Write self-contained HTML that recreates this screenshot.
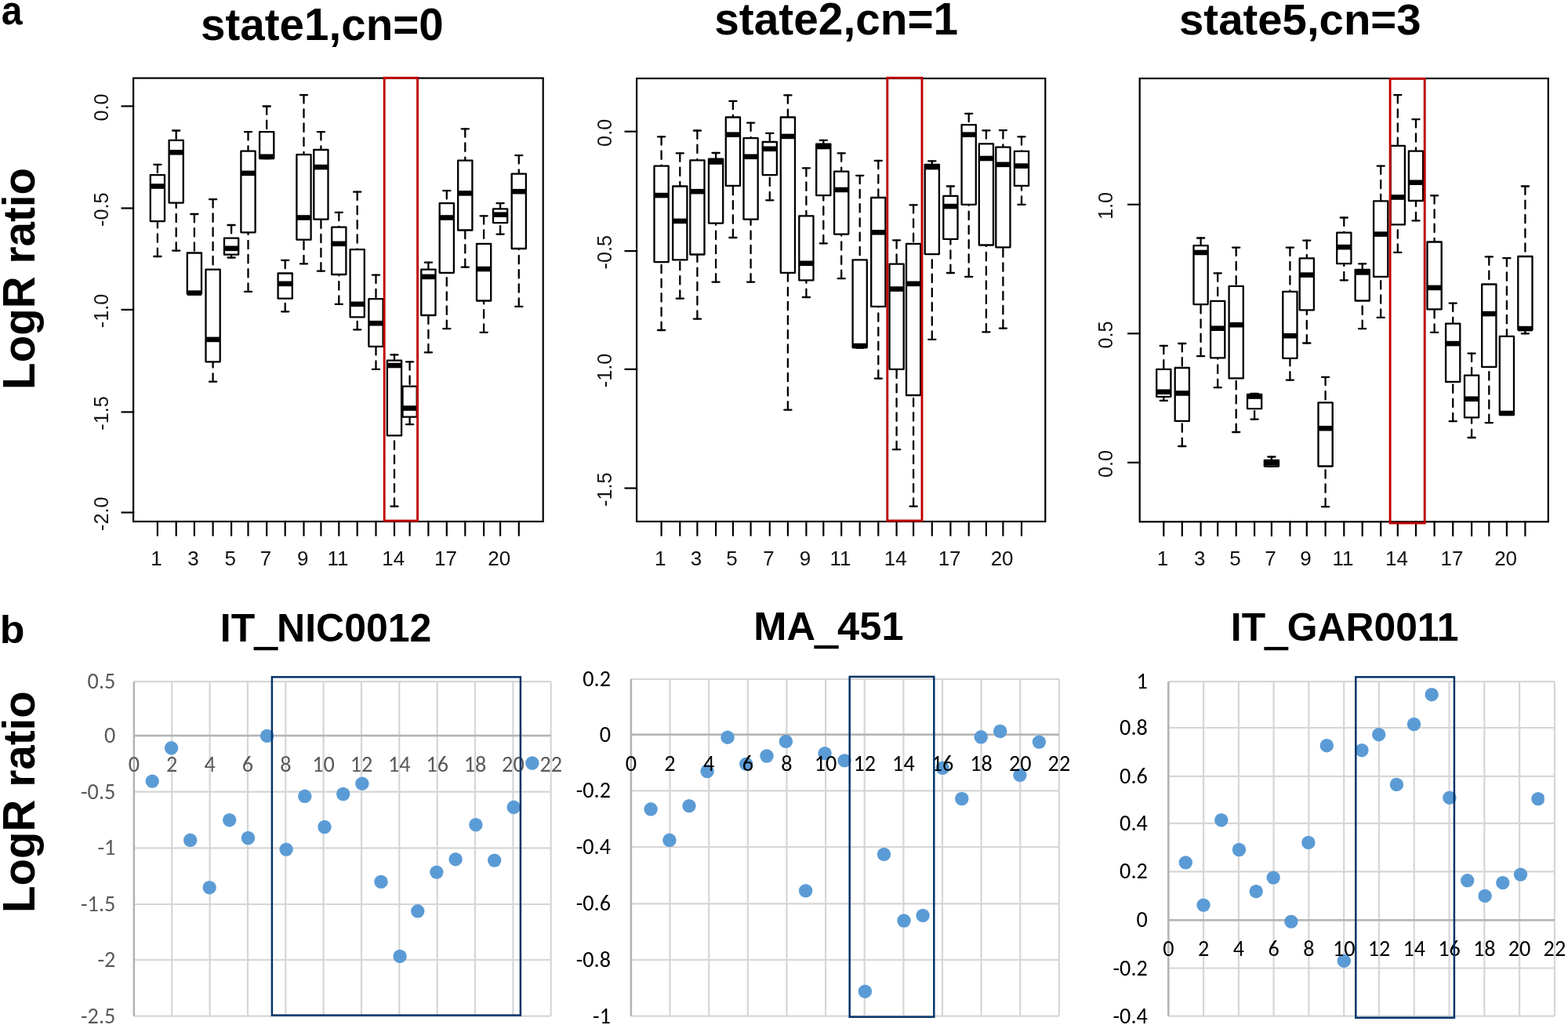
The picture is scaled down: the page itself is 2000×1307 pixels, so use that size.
<!DOCTYPE html>
<html><head><meta charset="utf-8"><title>LogR ratio figure</title><style>html,body{margin:0;padding:0;background:#fff;}svg{display:block;}</style></head><body><svg width="2000" height="1307" viewBox="0 0 2000 1307">
<rect width="2000" height="1307" fill="#fff"/>
<defs><clipPath id="clipb3"><rect x="1400" y="850" width="569.8" height="460"/></clipPath></defs>
<text transform="translate(1.75,31.00) scale(0.9463,1)" font-family='"Liberation Sans", Arial, sans-serif' font-weight="bold" font-size="51.0" fill="#000">a</text>
<text transform="translate(-0.17,820.00) scale(1.0274,1)" font-family='"Liberation Sans", Arial, sans-serif' font-weight="bold" font-size="50.5" fill="#000">b</text>
<text transform="translate(256.02,51.20) scale(1.0000,1)" font-family='"Liberation Sans", Arial, sans-serif' font-weight="bold" font-size="56.55" fill="#000">state1,cn=0</text>
<text transform="translate(911.21,43.60) scale(1.0000,1)" font-family='"Liberation Sans", Arial, sans-serif' font-weight="bold" font-size="56.8" fill="#000">state2,cn=1</text>
<text transform="translate(1504.03,43.50) scale(1.0000,1)" font-family='"Liberation Sans", Arial, sans-serif' font-weight="bold" font-size="56.35" fill="#000">state5,cn=3</text>
<text transform="translate(43.80,496.92) rotate(-90) scale(1.0000,1)" font-family='"Liberation Sans", Arial, sans-serif' font-weight="bold" font-size="56.6" fill="#000">LogR ratio</text>
<text transform="translate(43.80,1164.12) rotate(-90) scale(1.0000,1)" font-family='"Liberation Sans", Arial, sans-serif' font-weight="bold" font-size="56.6" fill="#000">LogR ratio</text>
<g stroke="#000" stroke-width="2.3" fill="none" stroke-linecap="round" stroke-linejoin="round"><line x1="200.9" y1="209.8" x2="200.9" y2="223.1" stroke-dasharray="10.4 7.8"/><line x1="200.9" y1="327.0" x2="200.9" y2="282.1" stroke-dasharray="10.4 7.8"/><line x1="196.3" y1="209.8" x2="205.5" y2="209.8"/><line x1="196.3" y1="327.0" x2="205.5" y2="327.0"/><rect x="191.8" y="223.1" width="18.2" height="59.0" fill="#fff"/><line x1="191.8" y1="237.5" x2="210.0" y2="237.5" stroke-width="6.6" stroke-linecap="butt"/><line x1="224.7" y1="166.5" x2="224.7" y2="178.8" stroke-dasharray="10.4 7.8"/><line x1="224.7" y1="319.6" x2="224.7" y2="258.6" stroke-dasharray="10.4 7.8"/><line x1="220.1" y1="166.5" x2="229.3" y2="166.5"/><line x1="220.1" y1="319.6" x2="229.3" y2="319.6"/><rect x="215.6" y="178.8" width="18.2" height="79.8" fill="#fff"/><line x1="215.6" y1="194.3" x2="233.8" y2="194.3" stroke-width="6.6" stroke-linecap="butt"/><line x1="247.9" y1="273.0" x2="247.9" y2="322.5" stroke-dasharray="10.4 7.8"/><line x1="243.3" y1="273.0" x2="252.5" y2="273.0"/><line x1="243.3" y1="374.6" x2="252.5" y2="374.6"/><rect x="238.8" y="322.5" width="18.2" height="52.1" fill="#fff"/><line x1="238.8" y1="373.6" x2="257.0" y2="373.6" stroke-width="6.6" stroke-linecap="butt"/><line x1="271.6" y1="254.2" x2="271.6" y2="343.6" stroke-dasharray="10.4 7.8"/><line x1="271.6" y1="486.7" x2="271.6" y2="461.3" stroke-dasharray="10.4 7.8"/><line x1="267.0" y1="254.2" x2="276.2" y2="254.2"/><line x1="267.0" y1="486.7" x2="276.2" y2="486.7"/><rect x="262.5" y="343.6" width="18.2" height="117.7" fill="#fff"/><line x1="262.5" y1="432.9" x2="280.7" y2="432.9" stroke-width="6.6" stroke-linecap="butt"/><line x1="295.1" y1="287.0" x2="295.1" y2="303.7" stroke-dasharray="10.4 7.8"/><line x1="295.1" y1="328.5" x2="295.1" y2="324.7" stroke-dasharray="10.4 7.8"/><line x1="290.5" y1="287.0" x2="299.7" y2="287.0"/><line x1="290.5" y1="328.5" x2="299.7" y2="328.5"/><rect x="286.0" y="303.7" width="18.2" height="21.0" fill="#fff"/><line x1="286.0" y1="316.8" x2="304.2" y2="316.8" stroke-width="6.6" stroke-linecap="butt"/><line x1="316.5" y1="168.1" x2="316.5" y2="192.7" stroke-dasharray="10.4 7.8"/><line x1="316.5" y1="371.8" x2="316.5" y2="296.3" stroke-dasharray="10.4 7.8"/><line x1="311.9" y1="168.1" x2="321.1" y2="168.1"/><line x1="311.9" y1="371.8" x2="321.1" y2="371.8"/><rect x="307.4" y="192.7" width="18.2" height="103.6" fill="#fff"/><line x1="307.4" y1="220.9" x2="325.6" y2="220.9" stroke-width="6.6" stroke-linecap="butt"/><line x1="340.2" y1="135.5" x2="340.2" y2="168.1" stroke-dasharray="10.4 7.8"/><line x1="335.6" y1="135.5" x2="344.8" y2="135.5"/><line x1="335.6" y1="202.0" x2="344.8" y2="202.0"/><rect x="331.1" y="168.1" width="18.2" height="33.9" fill="#fff"/><line x1="331.1" y1="199.8" x2="349.3" y2="199.8" stroke-width="6.6" stroke-linecap="butt"/><line x1="363.7" y1="331.8" x2="363.7" y2="348.5" stroke-dasharray="10.4 7.8"/><line x1="363.7" y1="397.3" x2="363.7" y2="380.7" stroke-dasharray="10.4 7.8"/><line x1="359.1" y1="331.8" x2="368.3" y2="331.8"/><line x1="359.1" y1="397.3" x2="368.3" y2="397.3"/><rect x="354.6" y="348.5" width="18.2" height="32.2" fill="#fff"/><line x1="354.6" y1="361.8" x2="372.8" y2="361.8" stroke-width="6.6" stroke-linecap="butt"/><line x1="387.5" y1="121.1" x2="387.5" y2="197.2" stroke-dasharray="10.4 7.8"/><line x1="387.5" y1="336.3" x2="387.5" y2="305.7" stroke-dasharray="10.4 7.8"/><line x1="382.9" y1="121.1" x2="392.1" y2="121.1"/><line x1="382.9" y1="336.3" x2="392.1" y2="336.3"/><rect x="378.4" y="197.2" width="18.2" height="108.5" fill="#fff"/><line x1="378.4" y1="277.5" x2="396.6" y2="277.5" stroke-width="6.6" stroke-linecap="butt"/><line x1="409.4" y1="168.1" x2="409.4" y2="191.0" stroke-dasharray="10.4 7.8"/><line x1="409.4" y1="345.6" x2="409.4" y2="279.7" stroke-dasharray="10.4 7.8"/><line x1="404.8" y1="168.1" x2="414.0" y2="168.1"/><line x1="404.8" y1="345.6" x2="414.0" y2="345.6"/><rect x="400.3" y="191.0" width="18.2" height="88.7" fill="#fff"/><line x1="400.3" y1="213.1" x2="418.5" y2="213.1" stroke-width="6.6" stroke-linecap="butt"/><line x1="432.3" y1="270.8" x2="432.3" y2="289.7" stroke-dasharray="10.4 7.8"/><line x1="432.3" y1="387.8" x2="432.3" y2="350.0" stroke-dasharray="10.4 7.8"/><line x1="427.7" y1="270.8" x2="436.9" y2="270.8"/><line x1="427.7" y1="387.8" x2="436.9" y2="387.8"/><rect x="423.2" y="289.7" width="18.2" height="60.3" fill="#fff"/><line x1="423.2" y1="310.8" x2="441.4" y2="310.8" stroke-width="6.6" stroke-linecap="butt"/><line x1="455.7" y1="244.7" x2="455.7" y2="318.1" stroke-dasharray="10.4 7.8"/><line x1="455.7" y1="420.3" x2="455.7" y2="404.4" stroke-dasharray="10.4 7.8"/><line x1="451.1" y1="244.7" x2="460.3" y2="244.7"/><line x1="451.1" y1="420.3" x2="460.3" y2="420.3"/><rect x="446.6" y="318.1" width="18.2" height="86.3" fill="#fff"/><line x1="446.6" y1="387.8" x2="464.8" y2="387.8" stroke-width="6.6" stroke-linecap="butt"/><line x1="479.5" y1="350.7" x2="479.5" y2="381.1" stroke-dasharray="10.4 7.8"/><line x1="479.5" y1="470.8" x2="479.5" y2="441.8" stroke-dasharray="10.4 7.8"/><line x1="474.9" y1="350.7" x2="484.1" y2="350.7"/><line x1="474.9" y1="470.8" x2="484.1" y2="470.8"/><rect x="470.4" y="381.1" width="18.2" height="60.7" fill="#fff"/><line x1="470.4" y1="412.2" x2="488.6" y2="412.2" stroke-width="6.6" stroke-linecap="butt"/><line x1="503.0" y1="452.3" x2="503.0" y2="459.6" stroke-dasharray="10.4 7.8"/><line x1="503.0" y1="645.7" x2="503.0" y2="555.4" stroke-dasharray="10.4 7.8"/><line x1="498.4" y1="452.3" x2="507.6" y2="452.3"/><line x1="498.4" y1="645.7" x2="507.6" y2="645.7"/><rect x="493.9" y="459.6" width="18.2" height="95.8" fill="#fff"/><line x1="493.9" y1="466.0" x2="512.1" y2="466.0" stroke-width="6.6" stroke-linecap="butt"/><line x1="522.6" y1="461.3" x2="522.6" y2="492.6" stroke-dasharray="10.4 7.8"/><line x1="522.6" y1="541.2" x2="522.6" y2="531.7" stroke-dasharray="10.4 7.8"/><line x1="518.0" y1="461.3" x2="527.2" y2="461.3"/><line x1="518.0" y1="541.2" x2="527.2" y2="541.2"/><rect x="513.5" y="492.6" width="18.2" height="39.1" fill="#fff"/><line x1="513.5" y1="520.5" x2="531.7" y2="520.5" stroke-width="6.6" stroke-linecap="butt"/><line x1="546.4" y1="334.7" x2="546.4" y2="343.6" stroke-dasharray="10.4 7.8"/><line x1="546.4" y1="449.4" x2="546.4" y2="402.0" stroke-dasharray="10.4 7.8"/><line x1="541.8" y1="334.7" x2="551.0" y2="334.7"/><line x1="541.8" y1="449.4" x2="551.0" y2="449.4"/><rect x="537.3" y="343.6" width="18.2" height="58.4" fill="#fff"/><line x1="537.3" y1="352.9" x2="555.5" y2="352.9" stroke-width="6.6" stroke-linecap="butt"/><line x1="569.8" y1="243.1" x2="569.8" y2="259.1" stroke-dasharray="10.4 7.8"/><line x1="569.8" y1="419.1" x2="569.8" y2="347.8" stroke-dasharray="10.4 7.8"/><line x1="565.2" y1="243.1" x2="574.4" y2="243.1"/><line x1="565.2" y1="419.1" x2="574.4" y2="419.1"/><rect x="560.7" y="259.1" width="18.2" height="88.7" fill="#fff"/><line x1="560.7" y1="277.5" x2="578.9" y2="277.5" stroke-width="6.6" stroke-linecap="butt"/><line x1="593.3" y1="164.3" x2="593.3" y2="204.7" stroke-dasharray="10.4 7.8"/><line x1="593.3" y1="340.7" x2="593.3" y2="293.5" stroke-dasharray="10.4 7.8"/><line x1="588.7" y1="164.3" x2="597.9" y2="164.3"/><line x1="588.7" y1="340.7" x2="597.9" y2="340.7"/><rect x="584.2" y="204.7" width="18.2" height="88.8" fill="#fff"/><line x1="584.2" y1="246.4" x2="602.4" y2="246.4" stroke-width="6.6" stroke-linecap="butt"/><line x1="617.1" y1="275.3" x2="617.1" y2="310.8" stroke-dasharray="10.4 7.8"/><line x1="617.1" y1="423.8" x2="617.1" y2="383.5" stroke-dasharray="10.4 7.8"/><line x1="612.5" y1="275.3" x2="621.7" y2="275.3"/><line x1="612.5" y1="423.8" x2="621.7" y2="423.8"/><rect x="608.0" y="310.8" width="18.2" height="72.7" fill="#fff"/><line x1="608.0" y1="343.0" x2="626.2" y2="343.0" stroke-width="6.6" stroke-linecap="butt"/><line x1="638.1" y1="259.1" x2="638.1" y2="266.4" stroke-dasharray="10.4 7.8"/><line x1="638.1" y1="298.6" x2="638.1" y2="284.1" stroke-dasharray="10.4 7.8"/><line x1="633.5" y1="259.1" x2="642.7" y2="259.1"/><line x1="633.5" y1="298.6" x2="642.7" y2="298.6"/><rect x="629.0" y="266.4" width="18.2" height="17.7" fill="#fff"/><line x1="629.0" y1="273.7" x2="647.2" y2="273.7" stroke-width="6.6" stroke-linecap="butt"/><line x1="661.8" y1="198.1" x2="661.8" y2="221.6" stroke-dasharray="10.4 7.8"/><line x1="661.8" y1="390.9" x2="661.8" y2="317.0" stroke-dasharray="10.4 7.8"/><line x1="657.2" y1="198.1" x2="666.4" y2="198.1"/><line x1="657.2" y1="390.9" x2="666.4" y2="390.9"/><rect x="652.7" y="221.6" width="18.2" height="95.4" fill="#fff"/><line x1="652.7" y1="244.2" x2="670.9" y2="244.2" stroke-width="6.6" stroke-linecap="butt"/></g>
<g stroke="#000" stroke-width="2.2" fill="none" stroke-linecap="square"><rect x="170.1" y="99.6" width="522.6" height="565.4"/><line x1="200.9" y1="665.0" x2="200.9" y2="682.5"/><line x1="224.7" y1="665.0" x2="224.7" y2="682.5"/><line x1="247.9" y1="665.0" x2="247.9" y2="682.5"/><line x1="271.6" y1="665.0" x2="271.6" y2="682.5"/><line x1="295.1" y1="665.0" x2="295.1" y2="682.5"/><line x1="316.5" y1="665.0" x2="316.5" y2="682.5"/><line x1="340.2" y1="665.0" x2="340.2" y2="682.5"/><line x1="363.7" y1="665.0" x2="363.7" y2="682.5"/><line x1="387.5" y1="665.0" x2="387.5" y2="682.5"/><line x1="409.4" y1="665.0" x2="409.4" y2="682.5"/><line x1="432.3" y1="665.0" x2="432.3" y2="682.5"/><line x1="455.7" y1="665.0" x2="455.7" y2="682.5"/><line x1="479.5" y1="665.0" x2="479.5" y2="682.5"/><line x1="503.0" y1="665.0" x2="503.0" y2="682.5"/><line x1="522.6" y1="665.0" x2="522.6" y2="682.5"/><line x1="546.4" y1="665.0" x2="546.4" y2="682.5"/><line x1="569.8" y1="665.0" x2="569.8" y2="682.5"/><line x1="593.3" y1="665.0" x2="593.3" y2="682.5"/><line x1="617.1" y1="665.0" x2="617.1" y2="682.5"/><line x1="638.1" y1="665.0" x2="638.1" y2="682.5"/><line x1="661.8" y1="665.0" x2="661.8" y2="682.5"/><line x1="155.6" y1="135.4" x2="170.1" y2="135.4"/><line x1="155.6" y1="265.5" x2="170.1" y2="265.5"/><line x1="155.6" y1="394.9" x2="170.1" y2="394.9"/><line x1="155.6" y1="525.4" x2="170.1" y2="525.4"/><line x1="155.6" y1="653.5" x2="170.1" y2="653.5"/></g>
<rect x="490.2" y="99.3" width="42.4" height="564.8" fill="none" stroke="#C00000" stroke-width="2.9"/>
<g font-family='"Liberation Sans", Arial, sans-serif' font-size="26" fill="#111"><text x="199.6" y="720.9" text-anchor="middle">1</text><text x="246.6" y="720.9" text-anchor="middle">3</text><text x="293.8" y="720.9" text-anchor="middle">5</text><text x="338.9" y="720.9" text-anchor="middle">7</text><text x="386.2" y="720.9" text-anchor="middle">9</text><text x="431.0" y="720.9" text-anchor="middle">11</text><text x="501.7" y="720.9" text-anchor="middle">14</text><text x="568.5" y="720.9" text-anchor="middle">17</text><text x="636.8" y="720.9" text-anchor="middle">20</text><text transform="translate(137.7,137.0) rotate(-90)" text-anchor="middle" font-size="25.3">0.0</text><text transform="translate(137.7,267.1) rotate(-90)" text-anchor="middle" font-size="25.3">-0.5</text><text transform="translate(137.7,396.5) rotate(-90)" text-anchor="middle" font-size="25.3">-1.0</text><text transform="translate(137.7,527.0) rotate(-90)" text-anchor="middle" font-size="25.3">-1.5</text><text transform="translate(137.7,655.1) rotate(-90)" text-anchor="middle" font-size="25.3">-2.0</text></g>
<g stroke="#000" stroke-width="2.3" fill="none" stroke-linecap="round" stroke-linejoin="round"><line x1="843.6" y1="174.3" x2="843.6" y2="211.6" stroke-dasharray="10.4 7.8"/><line x1="843.6" y1="421.0" x2="843.6" y2="334.1" stroke-dasharray="10.4 7.8"/><line x1="839.0" y1="174.3" x2="848.2" y2="174.3"/><line x1="839.0" y1="421.0" x2="848.2" y2="421.0"/><rect x="834.5" y="211.6" width="18.2" height="122.5" fill="#fff"/><line x1="834.5" y1="249.1" x2="852.7" y2="249.1" stroke-width="6.6" stroke-linecap="butt"/><line x1="867.3" y1="195.4" x2="867.3" y2="237.5" stroke-dasharray="10.4 7.8"/><line x1="867.3" y1="380.7" x2="867.3" y2="331.4" stroke-dasharray="10.4 7.8"/><line x1="862.7" y1="195.4" x2="871.9" y2="195.4"/><line x1="862.7" y1="380.7" x2="871.9" y2="380.7"/><rect x="858.2" y="237.5" width="18.2" height="93.9" fill="#fff"/><line x1="858.2" y1="281.9" x2="876.4" y2="281.9" stroke-width="6.6" stroke-linecap="butt"/><line x1="889.4" y1="166.5" x2="889.4" y2="204.3" stroke-dasharray="10.4 7.8"/><line x1="889.4" y1="406.7" x2="889.4" y2="324.5" stroke-dasharray="10.4 7.8"/><line x1="884.8" y1="166.5" x2="894.0" y2="166.5"/><line x1="884.8" y1="406.7" x2="894.0" y2="406.7"/><rect x="880.3" y="204.3" width="18.2" height="120.2" fill="#fff"/><line x1="880.3" y1="244.2" x2="898.5" y2="244.2" stroke-width="6.6" stroke-linecap="butt"/><line x1="913.1" y1="195.0" x2="913.1" y2="202.7" stroke-dasharray="10.4 7.8"/><line x1="913.1" y1="359.6" x2="913.1" y2="284.6" stroke-dasharray="10.4 7.8"/><line x1="908.5" y1="195.0" x2="917.7" y2="195.0"/><line x1="908.5" y1="359.6" x2="917.7" y2="359.6"/><rect x="904.0" y="202.7" width="18.2" height="81.9" fill="#fff"/><line x1="904.0" y1="206.5" x2="922.2" y2="206.5" stroke-width="6.6" stroke-linecap="butt"/><line x1="934.9" y1="128.8" x2="934.9" y2="149.5" stroke-dasharray="10.4 7.8"/><line x1="934.9" y1="303.0" x2="934.9" y2="236.9" stroke-dasharray="10.4 7.8"/><line x1="930.3" y1="128.8" x2="939.5" y2="128.8"/><line x1="930.3" y1="303.0" x2="939.5" y2="303.0"/><rect x="925.8" y="149.5" width="18.2" height="87.4" fill="#fff"/><line x1="925.8" y1="171.7" x2="944.0" y2="171.7" stroke-width="6.6" stroke-linecap="butt"/><line x1="957.6" y1="156.6" x2="957.6" y2="176.1" stroke-dasharray="10.4 7.8"/><line x1="957.6" y1="359.6" x2="957.6" y2="279.7" stroke-dasharray="10.4 7.8"/><line x1="953.0" y1="156.6" x2="962.2" y2="156.6"/><line x1="953.0" y1="359.6" x2="962.2" y2="359.6"/><rect x="948.5" y="176.1" width="18.2" height="103.6" fill="#fff"/><line x1="948.5" y1="199.8" x2="966.7" y2="199.8" stroke-width="6.6" stroke-linecap="butt"/><line x1="981.8" y1="169.9" x2="981.8" y2="181.0" stroke-dasharray="10.4 7.8"/><line x1="981.8" y1="255.3" x2="981.8" y2="223.1" stroke-dasharray="10.4 7.8"/><line x1="977.2" y1="169.9" x2="986.4" y2="169.9"/><line x1="977.2" y1="255.3" x2="986.4" y2="255.3"/><rect x="972.7" y="181.0" width="18.2" height="42.1" fill="#fff"/><line x1="972.7" y1="189.8" x2="990.9" y2="189.8" stroke-width="6.6" stroke-linecap="butt"/><line x1="1004.9" y1="121.4" x2="1004.9" y2="149.5" stroke-dasharray="10.4 7.8"/><line x1="1004.9" y1="522.6" x2="1004.9" y2="347.8" stroke-dasharray="10.4 7.8"/><line x1="1000.3" y1="121.4" x2="1009.5" y2="121.4"/><line x1="1000.3" y1="522.6" x2="1009.5" y2="522.6"/><rect x="995.8" y="149.5" width="18.2" height="198.3" fill="#fff"/><line x1="995.8" y1="173.9" x2="1014.0" y2="173.9" stroke-width="6.6" stroke-linecap="butt"/><line x1="1028.4" y1="214.3" x2="1028.4" y2="275.3" stroke-dasharray="10.4 7.8"/><line x1="1028.4" y1="379.0" x2="1028.4" y2="357.4" stroke-dasharray="10.4 7.8"/><line x1="1023.8" y1="214.3" x2="1033.0" y2="214.3"/><line x1="1023.8" y1="379.0" x2="1033.0" y2="379.0"/><rect x="1019.3" y="275.3" width="18.2" height="82.1" fill="#fff"/><line x1="1019.3" y1="335.8" x2="1037.5" y2="335.8" stroke-width="6.6" stroke-linecap="butt"/><line x1="1050.3" y1="178.8" x2="1050.3" y2="183.6" stroke-dasharray="10.4 7.8"/><line x1="1050.3" y1="310.3" x2="1050.3" y2="249.1" stroke-dasharray="10.4 7.8"/><line x1="1045.7" y1="178.8" x2="1054.9" y2="178.8"/><line x1="1045.7" y1="310.3" x2="1054.9" y2="310.3"/><rect x="1041.2" y="183.6" width="18.2" height="65.5" fill="#fff"/><line x1="1041.2" y1="187.0" x2="1059.4" y2="187.0" stroke-width="6.6" stroke-linecap="butt"/><line x1="1073.2" y1="195.4" x2="1073.2" y2="218.7" stroke-dasharray="10.4 7.8"/><line x1="1073.2" y1="355.1" x2="1073.2" y2="298.6" stroke-dasharray="10.4 7.8"/><line x1="1068.6" y1="195.4" x2="1077.8" y2="195.4"/><line x1="1068.6" y1="355.1" x2="1077.8" y2="355.1"/><rect x="1064.1" y="218.7" width="18.2" height="79.9" fill="#fff"/><line x1="1064.1" y1="242.0" x2="1082.3" y2="242.0" stroke-width="6.6" stroke-linecap="butt"/><line x1="1096.7" y1="223.8" x2="1096.7" y2="331.4" stroke-dasharray="10.4 7.8"/><line x1="1092.1" y1="223.8" x2="1101.3" y2="223.8"/><line x1="1092.1" y1="443.5" x2="1101.3" y2="443.5"/><rect x="1087.6" y="331.4" width="18.2" height="111.6" fill="#fff"/><line x1="1087.6" y1="441.0" x2="1105.8" y2="441.0" stroke-width="6.6" stroke-linecap="butt"/><line x1="1120.3" y1="204.9" x2="1120.3" y2="252.0" stroke-dasharray="10.4 7.8"/><line x1="1120.3" y1="482.6" x2="1120.3" y2="390.9" stroke-dasharray="10.4 7.8"/><line x1="1115.7" y1="204.9" x2="1124.9" y2="204.9"/><line x1="1115.7" y1="482.6" x2="1124.9" y2="482.6"/><rect x="1111.2" y="252.0" width="18.2" height="138.9" fill="#fff"/><line x1="1111.2" y1="296.3" x2="1129.4" y2="296.3" stroke-width="6.6" stroke-linecap="butt"/><line x1="1143.6" y1="306.3" x2="1143.6" y2="336.7" stroke-dasharray="10.4 7.8"/><line x1="1143.6" y1="573.2" x2="1143.6" y2="470.8" stroke-dasharray="10.4 7.8"/><line x1="1139.0" y1="306.3" x2="1148.2" y2="306.3"/><line x1="1139.0" y1="573.2" x2="1148.2" y2="573.2"/><rect x="1134.5" y="336.7" width="18.2" height="134.1" fill="#fff"/><line x1="1134.5" y1="368.5" x2="1152.7" y2="368.5" stroke-width="6.6" stroke-linecap="butt"/><line x1="1165.1" y1="261.3" x2="1165.1" y2="310.8" stroke-dasharray="10.4 7.8"/><line x1="1165.1" y1="645.7" x2="1165.1" y2="504.0" stroke-dasharray="10.4 7.8"/><line x1="1160.5" y1="261.3" x2="1169.7" y2="261.3"/><line x1="1160.5" y1="645.7" x2="1169.7" y2="645.7"/><rect x="1156.0" y="310.8" width="18.2" height="193.2" fill="#fff"/><line x1="1156.0" y1="361.8" x2="1174.2" y2="361.8" stroke-width="6.6" stroke-linecap="butt"/><line x1="1188.8" y1="205.4" x2="1188.8" y2="209.8" stroke-dasharray="10.4 7.8"/><line x1="1188.8" y1="432.8" x2="1188.8" y2="324.1" stroke-dasharray="10.4 7.8"/><line x1="1184.2" y1="205.4" x2="1193.4" y2="205.4"/><line x1="1184.2" y1="432.8" x2="1193.4" y2="432.8"/><rect x="1179.7" y="209.8" width="18.2" height="114.3" fill="#fff"/><line x1="1179.7" y1="213.1" x2="1197.9" y2="213.1" stroke-width="6.6" stroke-linecap="butt"/><line x1="1212.4" y1="237.5" x2="1212.4" y2="249.8" stroke-dasharray="10.4 7.8"/><line x1="1212.4" y1="348.0" x2="1212.4" y2="304.8" stroke-dasharray="10.4 7.8"/><line x1="1207.8" y1="237.5" x2="1217.0" y2="237.5"/><line x1="1207.8" y1="348.0" x2="1217.0" y2="348.0"/><rect x="1203.3" y="249.8" width="18.2" height="55.0" fill="#fff"/><line x1="1203.3" y1="263.1" x2="1221.5" y2="263.1" stroke-width="6.6" stroke-linecap="butt"/><line x1="1235.7" y1="144.8" x2="1235.7" y2="159.2" stroke-dasharray="10.4 7.8"/><line x1="1235.7" y1="352.9" x2="1235.7" y2="260.8" stroke-dasharray="10.4 7.8"/><line x1="1231.1" y1="144.8" x2="1240.3" y2="144.8"/><line x1="1231.1" y1="352.9" x2="1240.3" y2="352.9"/><rect x="1226.6" y="159.2" width="18.2" height="101.6" fill="#fff"/><line x1="1226.6" y1="171.7" x2="1244.8" y2="171.7" stroke-width="6.6" stroke-linecap="butt"/><line x1="1257.9" y1="166.3" x2="1257.9" y2="183.4" stroke-dasharray="10.4 7.8"/><line x1="1257.9" y1="423.3" x2="1257.9" y2="312.5" stroke-dasharray="10.4 7.8"/><line x1="1253.3" y1="166.3" x2="1262.5" y2="166.3"/><line x1="1253.3" y1="423.3" x2="1262.5" y2="423.3"/><rect x="1248.8" y="183.4" width="18.2" height="129.1" fill="#fff"/><line x1="1248.8" y1="202.0" x2="1267.0" y2="202.0" stroke-width="6.6" stroke-linecap="butt"/><line x1="1279.4" y1="166.1" x2="1279.4" y2="187.6" stroke-dasharray="10.4 7.8"/><line x1="1279.4" y1="418.6" x2="1279.4" y2="315.3" stroke-dasharray="10.4 7.8"/><line x1="1274.8" y1="166.1" x2="1284.0" y2="166.1"/><line x1="1274.8" y1="418.6" x2="1284.0" y2="418.6"/><rect x="1270.3" y="187.6" width="18.2" height="127.7" fill="#fff"/><line x1="1270.3" y1="209.8" x2="1288.5" y2="209.8" stroke-width="6.6" stroke-linecap="butt"/><line x1="1303.0" y1="174.3" x2="1303.0" y2="192.8" stroke-dasharray="10.4 7.8"/><line x1="1303.0" y1="260.9" x2="1303.0" y2="236.9" stroke-dasharray="10.4 7.8"/><line x1="1298.4" y1="174.3" x2="1307.6" y2="174.3"/><line x1="1298.4" y1="260.9" x2="1307.6" y2="260.9"/><rect x="1293.9" y="192.8" width="18.2" height="44.1" fill="#fff"/><line x1="1293.9" y1="211.6" x2="1312.1" y2="211.6" stroke-width="6.6" stroke-linecap="butt"/></g>
<g stroke="#000" stroke-width="2.2" fill="none" stroke-linecap="square"><rect x="812.1" y="100.0" width="521.2" height="565.0"/><line x1="843.6" y1="665.0" x2="843.6" y2="682.5"/><line x1="867.3" y1="665.0" x2="867.3" y2="682.5"/><line x1="889.4" y1="665.0" x2="889.4" y2="682.5"/><line x1="913.1" y1="665.0" x2="913.1" y2="682.5"/><line x1="934.9" y1="665.0" x2="934.9" y2="682.5"/><line x1="957.6" y1="665.0" x2="957.6" y2="682.5"/><line x1="981.8" y1="665.0" x2="981.8" y2="682.5"/><line x1="1004.9" y1="665.0" x2="1004.9" y2="682.5"/><line x1="1028.4" y1="665.0" x2="1028.4" y2="682.5"/><line x1="1050.3" y1="665.0" x2="1050.3" y2="682.5"/><line x1="1073.2" y1="665.0" x2="1073.2" y2="682.5"/><line x1="1096.7" y1="665.0" x2="1096.7" y2="682.5"/><line x1="1120.3" y1="665.0" x2="1120.3" y2="682.5"/><line x1="1143.6" y1="665.0" x2="1143.6" y2="682.5"/><line x1="1165.1" y1="665.0" x2="1165.1" y2="682.5"/><line x1="1188.8" y1="665.0" x2="1188.8" y2="682.5"/><line x1="1212.4" y1="665.0" x2="1212.4" y2="682.5"/><line x1="1235.7" y1="665.0" x2="1235.7" y2="682.5"/><line x1="1257.9" y1="665.0" x2="1257.9" y2="682.5"/><line x1="1279.4" y1="665.0" x2="1279.4" y2="682.5"/><line x1="1303.0" y1="665.0" x2="1303.0" y2="682.5"/><line x1="797.6" y1="167.7" x2="812.1" y2="167.7"/><line x1="797.6" y1="320.1" x2="812.1" y2="320.1"/><line x1="797.6" y1="470.8" x2="812.1" y2="470.8"/><line x1="797.6" y1="622.5" x2="812.1" y2="622.5"/></g>
<rect x="1131.8" y="99.3" width="44.2" height="564.7" fill="none" stroke="#C00000" stroke-width="2.9"/>
<g font-family='"Liberation Sans", Arial, sans-serif' font-size="26" fill="#111"><text x="842.3" y="720.9" text-anchor="middle">1</text><text x="888.1" y="720.9" text-anchor="middle">3</text><text x="933.6" y="720.9" text-anchor="middle">5</text><text x="980.5" y="720.9" text-anchor="middle">7</text><text x="1027.1" y="720.9" text-anchor="middle">9</text><text x="1071.9" y="720.9" text-anchor="middle">11</text><text x="1142.3" y="720.9" text-anchor="middle">14</text><text x="1211.1" y="720.9" text-anchor="middle">17</text><text x="1278.1" y="720.9" text-anchor="middle">20</text><text transform="translate(779.7,169.3) rotate(-90)" text-anchor="middle" font-size="25.3">0.0</text><text transform="translate(779.7,321.7) rotate(-90)" text-anchor="middle" font-size="25.3">-0.5</text><text transform="translate(779.7,472.4) rotate(-90)" text-anchor="middle" font-size="25.3">-1.0</text><text transform="translate(779.7,624.1) rotate(-90)" text-anchor="middle" font-size="25.3">-1.5</text></g>
<g stroke="#000" stroke-width="2.3" fill="none" stroke-linecap="round" stroke-linejoin="round"><line x1="1484.3" y1="440.9" x2="1484.3" y2="470.8" stroke-dasharray="10.4 7.8"/><line x1="1484.3" y1="510.8" x2="1484.3" y2="505.9" stroke-dasharray="10.4 7.8"/><line x1="1479.7" y1="440.9" x2="1488.9" y2="440.9"/><line x1="1479.7" y1="510.8" x2="1488.9" y2="510.8"/><rect x="1475.2" y="470.8" width="18.2" height="35.1" fill="#fff"/><line x1="1475.2" y1="499.7" x2="1493.4" y2="499.7" stroke-width="6.6" stroke-linecap="butt"/><line x1="1507.8" y1="438.0" x2="1507.8" y2="469.0" stroke-dasharray="10.4 7.8"/><line x1="1507.8" y1="569.0" x2="1507.8" y2="536.9" stroke-dasharray="10.4 7.8"/><line x1="1503.2" y1="438.0" x2="1512.4" y2="438.0"/><line x1="1503.2" y1="569.0" x2="1512.4" y2="569.0"/><rect x="1498.7" y="469.0" width="18.2" height="67.9" fill="#fff"/><line x1="1498.7" y1="501.4" x2="1516.9" y2="501.4" stroke-width="6.6" stroke-linecap="butt"/><line x1="1531.6" y1="303.5" x2="1531.6" y2="313.2" stroke-dasharray="10.4 7.8"/><line x1="1531.6" y1="454.2" x2="1531.6" y2="388.1" stroke-dasharray="10.4 7.8"/><line x1="1527.0" y1="303.5" x2="1536.2" y2="303.5"/><line x1="1527.0" y1="454.2" x2="1536.2" y2="454.2"/><rect x="1522.5" y="313.2" width="18.2" height="74.9" fill="#fff"/><line x1="1522.5" y1="322.0" x2="1540.7" y2="322.0" stroke-width="6.6" stroke-linecap="butt"/><line x1="1553.2" y1="348.4" x2="1553.2" y2="383.8" stroke-dasharray="10.4 7.8"/><line x1="1553.2" y1="494.1" x2="1553.2" y2="456.4" stroke-dasharray="10.4 7.8"/><line x1="1548.6" y1="348.4" x2="1557.8" y2="348.4"/><line x1="1548.6" y1="494.1" x2="1557.8" y2="494.1"/><rect x="1544.1" y="383.8" width="18.2" height="72.6" fill="#fff"/><line x1="1544.1" y1="418.7" x2="1562.3" y2="418.7" stroke-width="6.6" stroke-linecap="butt"/><line x1="1576.7" y1="315.7" x2="1576.7" y2="364.9" stroke-dasharray="10.4 7.8"/><line x1="1576.7" y1="551.0" x2="1576.7" y2="482.4" stroke-dasharray="10.4 7.8"/><line x1="1572.1" y1="315.7" x2="1581.3" y2="315.7"/><line x1="1572.1" y1="551.0" x2="1581.3" y2="551.0"/><rect x="1567.6" y="364.9" width="18.2" height="117.5" fill="#fff"/><line x1="1567.6" y1="414.2" x2="1585.8" y2="414.2" stroke-width="6.6" stroke-linecap="butt"/><line x1="1600.1" y1="502.0" x2="1600.1" y2="503.0" stroke-dasharray="10.4 7.8"/><line x1="1600.1" y1="534.6" x2="1600.1" y2="521.1" stroke-dasharray="10.4 7.8"/><line x1="1595.5" y1="502.0" x2="1604.7" y2="502.0"/><line x1="1595.5" y1="534.6" x2="1604.7" y2="534.6"/><rect x="1591.0" y="503.0" width="18.2" height="18.1" fill="#fff"/><line x1="1591.0" y1="505.5" x2="1609.2" y2="505.5" stroke-width="6.6" stroke-linecap="butt"/><line x1="1621.9" y1="582.5" x2="1621.9" y2="587.0" stroke-dasharray="10.4 7.8"/><line x1="1617.3" y1="582.5" x2="1626.5" y2="582.5"/><line x1="1617.3" y1="594.5" x2="1626.5" y2="594.5"/><rect x="1612.8" y="587.0" width="18.2" height="7.5" fill="#fff"/><line x1="1612.8" y1="590.0" x2="1631.0" y2="590.0" stroke-width="6.6" stroke-linecap="butt"/><line x1="1645.4" y1="315.7" x2="1645.4" y2="371.8" stroke-dasharray="10.4 7.8"/><line x1="1645.4" y1="484.6" x2="1645.4" y2="456.8" stroke-dasharray="10.4 7.8"/><line x1="1640.8" y1="315.7" x2="1650.0" y2="315.7"/><line x1="1640.8" y1="484.6" x2="1650.0" y2="484.6"/><rect x="1636.3" y="371.8" width="18.2" height="85.0" fill="#fff"/><line x1="1636.3" y1="428.2" x2="1654.5" y2="428.2" stroke-width="6.6" stroke-linecap="butt"/><line x1="1666.8" y1="306.6" x2="1666.8" y2="329.3" stroke-dasharray="10.4 7.8"/><line x1="1666.8" y1="437.5" x2="1666.8" y2="395.4" stroke-dasharray="10.4 7.8"/><line x1="1662.2" y1="306.6" x2="1671.4" y2="306.6"/><line x1="1662.2" y1="437.5" x2="1671.4" y2="437.5"/><rect x="1657.7" y="329.3" width="18.2" height="66.1" fill="#fff"/><line x1="1657.7" y1="350.6" x2="1675.9" y2="350.6" stroke-width="6.6" stroke-linecap="butt"/><line x1="1690.6" y1="480.8" x2="1690.6" y2="513.4" stroke-dasharray="10.4 7.8"/><line x1="1690.6" y1="646.1" x2="1690.6" y2="594.5" stroke-dasharray="10.4 7.8"/><line x1="1686.0" y1="480.8" x2="1695.2" y2="480.8"/><line x1="1686.0" y1="646.1" x2="1695.2" y2="646.1"/><rect x="1681.5" y="513.4" width="18.2" height="81.1" fill="#fff"/><line x1="1681.5" y1="546.2" x2="1699.7" y2="546.2" stroke-width="6.6" stroke-linecap="butt"/><line x1="1714.3" y1="277.5" x2="1714.3" y2="296.7" stroke-dasharray="10.4 7.8"/><line x1="1714.3" y1="357.3" x2="1714.3" y2="336.2" stroke-dasharray="10.4 7.8"/><line x1="1709.7" y1="277.5" x2="1718.9" y2="277.5"/><line x1="1709.7" y1="357.3" x2="1718.9" y2="357.3"/><rect x="1705.2" y="296.7" width="18.2" height="39.5" fill="#fff"/><line x1="1705.2" y1="315.1" x2="1723.4" y2="315.1" stroke-width="6.6" stroke-linecap="butt"/><line x1="1737.7" y1="336.3" x2="1737.7" y2="344.0" stroke-dasharray="10.4 7.8"/><line x1="1737.7" y1="419.1" x2="1737.7" y2="383.5" stroke-dasharray="10.4 7.8"/><line x1="1733.1" y1="336.3" x2="1742.3" y2="336.3"/><line x1="1733.1" y1="419.1" x2="1742.3" y2="419.1"/><rect x="1728.6" y="344.0" width="18.2" height="39.5" fill="#fff"/><line x1="1728.6" y1="347.4" x2="1746.8" y2="347.4" stroke-width="6.6" stroke-linecap="butt"/><line x1="1761.2" y1="211.6" x2="1761.2" y2="256.4" stroke-dasharray="10.4 7.8"/><line x1="1761.2" y1="404.9" x2="1761.2" y2="352.9" stroke-dasharray="10.4 7.8"/><line x1="1756.6" y1="211.6" x2="1765.8" y2="211.6"/><line x1="1756.6" y1="404.9" x2="1765.8" y2="404.9"/><rect x="1752.1" y="256.4" width="18.2" height="96.5" fill="#fff"/><line x1="1752.1" y1="298.6" x2="1770.3" y2="298.6" stroke-width="6.6" stroke-linecap="butt"/><line x1="1782.8" y1="121.1" x2="1782.8" y2="185.9" stroke-dasharray="10.4 7.8"/><line x1="1782.8" y1="321.9" x2="1782.8" y2="286.4" stroke-dasharray="10.4 7.8"/><line x1="1778.2" y1="121.1" x2="1787.4" y2="121.1"/><line x1="1778.2" y1="321.9" x2="1787.4" y2="321.9"/><rect x="1773.7" y="185.9" width="18.2" height="100.5" fill="#fff"/><line x1="1773.7" y1="251.5" x2="1791.9" y2="251.5" stroke-width="6.6" stroke-linecap="butt"/><line x1="1806.0" y1="152.1" x2="1806.0" y2="192.7" stroke-dasharray="10.4 7.8"/><line x1="1806.0" y1="281.3" x2="1806.0" y2="256.0" stroke-dasharray="10.4 7.8"/><line x1="1801.4" y1="152.1" x2="1810.6" y2="152.1"/><line x1="1801.4" y1="281.3" x2="1810.6" y2="281.3"/><rect x="1796.9" y="192.7" width="18.2" height="63.3" fill="#fff"/><line x1="1796.9" y1="232.7" x2="1815.1" y2="232.7" stroke-width="6.6" stroke-linecap="butt"/><line x1="1829.6" y1="249.3" x2="1829.6" y2="308.5" stroke-dasharray="10.4 7.8"/><line x1="1829.6" y1="423.8" x2="1829.6" y2="394.4" stroke-dasharray="10.4 7.8"/><line x1="1825.0" y1="249.3" x2="1834.2" y2="249.3"/><line x1="1825.0" y1="423.8" x2="1834.2" y2="423.8"/><rect x="1820.5" y="308.5" width="18.2" height="85.9" fill="#fff"/><line x1="1820.5" y1="366.9" x2="1838.7" y2="366.9" stroke-width="6.6" stroke-linecap="butt"/><line x1="1853.2" y1="386.6" x2="1853.2" y2="412.7" stroke-dasharray="10.4 7.8"/><line x1="1853.2" y1="537.2" x2="1853.2" y2="486.9" stroke-dasharray="10.4 7.8"/><line x1="1848.6" y1="386.6" x2="1857.8" y2="386.6"/><line x1="1848.6" y1="537.2" x2="1857.8" y2="537.2"/><rect x="1844.1" y="412.7" width="18.2" height="74.2" fill="#fff"/><line x1="1844.1" y1="438.1" x2="1862.3" y2="438.1" stroke-width="6.6" stroke-linecap="butt"/><line x1="1877.1" y1="450.6" x2="1877.1" y2="478.6" stroke-dasharray="10.4 7.8"/><line x1="1877.1" y1="558.0" x2="1877.1" y2="532.4" stroke-dasharray="10.4 7.8"/><line x1="1872.5" y1="450.6" x2="1881.7" y2="450.6"/><line x1="1872.5" y1="558.0" x2="1881.7" y2="558.0"/><rect x="1868.0" y="478.6" width="18.2" height="53.8" fill="#fff"/><line x1="1868.0" y1="508.7" x2="1886.2" y2="508.7" stroke-width="6.6" stroke-linecap="butt"/><line x1="1899.3" y1="327.4" x2="1899.3" y2="362.5" stroke-dasharray="10.4 7.8"/><line x1="1899.3" y1="539.1" x2="1899.3" y2="467.9" stroke-dasharray="10.4 7.8"/><line x1="1894.7" y1="327.4" x2="1903.9" y2="327.4"/><line x1="1894.7" y1="539.1" x2="1903.9" y2="539.1"/><rect x="1890.2" y="362.5" width="18.2" height="105.4" fill="#fff"/><line x1="1890.2" y1="400.1" x2="1908.4" y2="400.1" stroke-width="6.6" stroke-linecap="butt"/><line x1="1921.9" y1="329.2" x2="1921.9" y2="428.8" stroke-dasharray="10.4 7.8"/><line x1="1917.3" y1="329.2" x2="1926.5" y2="329.2"/><line x1="1917.3" y1="528.9" x2="1926.5" y2="528.9"/><rect x="1912.8" y="428.8" width="18.2" height="100.1" fill="#fff"/><line x1="1912.8" y1="527.0" x2="1931.0" y2="527.0" stroke-width="6.6" stroke-linecap="butt"/><line x1="1945.4" y1="237.5" x2="1945.4" y2="327.0" stroke-dasharray="10.4 7.8"/><line x1="1945.4" y1="425.3" x2="1945.4" y2="420.5" stroke-dasharray="10.4 7.8"/><line x1="1940.8" y1="237.5" x2="1950.0" y2="237.5"/><line x1="1940.8" y1="425.3" x2="1950.0" y2="425.3"/><rect x="1936.3" y="327.0" width="18.2" height="93.5" fill="#fff"/><line x1="1936.3" y1="419.1" x2="1954.5" y2="419.1" stroke-width="6.6" stroke-linecap="butt"/></g>
<g stroke="#000" stroke-width="2.2" fill="none" stroke-linecap="square"><rect x="1453.7" y="100.0" width="521.1" height="565.3"/><line x1="1484.3" y1="665.3" x2="1484.3" y2="682.8"/><line x1="1507.8" y1="665.3" x2="1507.8" y2="682.8"/><line x1="1531.6" y1="665.3" x2="1531.6" y2="682.8"/><line x1="1553.2" y1="665.3" x2="1553.2" y2="682.8"/><line x1="1576.7" y1="665.3" x2="1576.7" y2="682.8"/><line x1="1600.1" y1="665.3" x2="1600.1" y2="682.8"/><line x1="1621.9" y1="665.3" x2="1621.9" y2="682.8"/><line x1="1645.4" y1="665.3" x2="1645.4" y2="682.8"/><line x1="1666.8" y1="665.3" x2="1666.8" y2="682.8"/><line x1="1690.6" y1="665.3" x2="1690.6" y2="682.8"/><line x1="1714.3" y1="665.3" x2="1714.3" y2="682.8"/><line x1="1737.7" y1="665.3" x2="1737.7" y2="682.8"/><line x1="1761.2" y1="665.3" x2="1761.2" y2="682.8"/><line x1="1782.8" y1="665.3" x2="1782.8" y2="682.8"/><line x1="1806.0" y1="665.3" x2="1806.0" y2="682.8"/><line x1="1829.6" y1="665.3" x2="1829.6" y2="682.8"/><line x1="1853.2" y1="665.3" x2="1853.2" y2="682.8"/><line x1="1877.1" y1="665.3" x2="1877.1" y2="682.8"/><line x1="1899.3" y1="665.3" x2="1899.3" y2="682.8"/><line x1="1921.9" y1="665.3" x2="1921.9" y2="682.8"/><line x1="1945.4" y1="665.3" x2="1945.4" y2="682.8"/><line x1="1439.2" y1="589.8" x2="1453.7" y2="589.8"/><line x1="1439.2" y1="425.3" x2="1453.7" y2="425.3"/><line x1="1439.2" y1="260.8" x2="1453.7" y2="260.8"/></g>
<rect x="1773.1" y="100.4" width="44.1" height="566.6" fill="none" stroke="#C00000" stroke-width="2.9"/>
<g font-family='"Liberation Sans", Arial, sans-serif' font-size="26" fill="#111"><text x="1483.0" y="720.9" text-anchor="middle">1</text><text x="1530.3" y="720.9" text-anchor="middle">3</text><text x="1575.4" y="720.9" text-anchor="middle">5</text><text x="1620.6" y="720.9" text-anchor="middle">7</text><text x="1665.5" y="720.9" text-anchor="middle">9</text><text x="1713.0" y="720.9" text-anchor="middle">11</text><text x="1781.5" y="720.9" text-anchor="middle">14</text><text x="1851.9" y="720.9" text-anchor="middle">17</text><text x="1920.6" y="720.9" text-anchor="middle">20</text><text transform="translate(1419.4,591.4) rotate(-90)" text-anchor="middle" font-size="25.3">0.0</text><text transform="translate(1419.4,426.9) rotate(-90)" text-anchor="middle" font-size="25.3">0.5</text><text transform="translate(1419.4,262.4) rotate(-90)" text-anchor="middle" font-size="25.3">1.0</text></g>
<text transform="translate(280.82,818.00) scale(1.0000,1)" font-family='"Liberation Sans", Arial, sans-serif' font-weight="bold" font-size="50.0" fill="#000">IT<tspan dy="3.85" stroke="#000" stroke-width="2.4">_</tspan><tspan dy="-3.85">NIC0012</tspan></text>
<g stroke="#D6D6D6" stroke-width="2.2"><line x1="170.9" y1="869.2" x2="170.9" y2="1295.6"/><line x1="219.2" y1="869.2" x2="219.2" y2="1295.6"/><line x1="267.6" y1="869.2" x2="267.6" y2="1295.6"/><line x1="315.9" y1="869.2" x2="315.9" y2="1295.6"/><line x1="364.3" y1="869.2" x2="364.3" y2="1295.6"/><line x1="412.6" y1="869.2" x2="412.6" y2="1295.6"/><line x1="461.0" y1="869.2" x2="461.0" y2="1295.6"/><line x1="509.3" y1="869.2" x2="509.3" y2="1295.6"/><line x1="557.7" y1="869.2" x2="557.7" y2="1295.6"/><line x1="606.0" y1="869.2" x2="606.0" y2="1295.6"/><line x1="654.4" y1="869.2" x2="654.4" y2="1295.6"/><line x1="702.7" y1="869.2" x2="702.7" y2="1295.6"/><line x1="170.9" y1="869.2" x2="702.7" y2="869.2"/><line x1="170.9" y1="938.1" x2="702.7" y2="938.1"/><line x1="170.9" y1="1009.7" x2="702.7" y2="1009.7"/><line x1="170.9" y1="1081.4" x2="702.7" y2="1081.4"/><line x1="170.9" y1="1153.0" x2="702.7" y2="1153.0"/><line x1="170.9" y1="1224.0" x2="702.7" y2="1224.0"/><line x1="170.9" y1="1295.6" x2="702.7" y2="1295.6"/></g>
<g stroke="#B4B4B4" stroke-width="2.5"><line x1="170.9" y1="869.2" x2="170.9" y2="1295.6"/><line x1="170.9" y1="938.1" x2="702.7" y2="938.1"/></g>
<g fill="#5B9BD5"><circle cx="194.2" cy="996.1" r="8.7"/><circle cx="218.6" cy="953.8" r="8.7"/><circle cx="242.7" cy="1071.3" r="8.7"/><circle cx="267.2" cy="1131.7" r="8.7"/><circle cx="292.7" cy="1045.7" r="8.7"/><circle cx="316.5" cy="1068.5" r="8.7"/><circle cx="340.6" cy="938.4" r="8.7"/><circle cx="365.1" cy="1083.1" r="8.7"/><circle cx="388.8" cy="1015.3" r="8.7"/><circle cx="414.0" cy="1054.5" r="8.7"/><circle cx="437.7" cy="1012.5" r="8.7"/><circle cx="461.9" cy="999.2" r="8.7"/><circle cx="486.0" cy="1124.4" r="8.7"/><circle cx="510.1" cy="1219.4" r="8.7"/><circle cx="532.8" cy="1161.8" r="8.7"/><circle cx="556.9" cy="1112.1" r="8.7"/><circle cx="581.1" cy="1095.7" r="8.7"/><circle cx="606.9" cy="1051.7" r="8.7"/><circle cx="630.7" cy="1097.1" r="8.7"/><circle cx="655.2" cy="1029.3" r="8.7"/><circle cx="678.9" cy="973.0" r="8.7"/></g>
<g font-family='Carlito, Calibri, "Liberation Sans", sans-serif' font-size="28.2" fill="#595959"><text x="147.3" y="878.2" text-anchor="end">0.5</text><text x="147.3" y="947.1" text-anchor="end">0</text><text x="147.3" y="1018.7" text-anchor="end">-0.5</text><text x="147.3" y="1090.4" text-anchor="end">-1</text><text x="147.3" y="1162.0" text-anchor="end">-1.5</text><text x="147.3" y="1233.0" text-anchor="end">-2</text><text x="147.3" y="1304.6" text-anchor="end">-2.5</text><text x="170.9" y="984.2" text-anchor="middle">0</text><text x="219.2" y="984.2" text-anchor="middle">2</text><text x="267.6" y="984.2" text-anchor="middle">4</text><text x="315.9" y="984.2" text-anchor="middle">6</text><text x="364.3" y="984.2" text-anchor="middle">8</text><text x="412.6" y="984.2" text-anchor="middle">10</text><text x="461.0" y="984.2" text-anchor="middle">12</text><text x="509.3" y="984.2" text-anchor="middle">14</text><text x="557.7" y="984.2" text-anchor="middle">16</text><text x="606.0" y="984.2" text-anchor="middle">18</text><text x="654.4" y="984.2" text-anchor="middle">20</text><text x="702.7" y="984.2" text-anchor="middle">22</text></g>
<rect x="346.9" y="863.3" width="317.0" height="431.3" fill="none" stroke="#053468" stroke-width="2.5"/>
<text transform="translate(961.28,816.00) scale(1.0000,1)" font-family='"Liberation Sans", Arial, sans-serif' font-weight="bold" font-size="50.6" fill="#000">MA<tspan dy="4.2" stroke="#000" stroke-width="2.4">_</tspan><tspan dy="-4.2">451</tspan></text>
<g stroke="#D6D6D6" stroke-width="2.2"><line x1="804.9" y1="866.0" x2="804.9" y2="1295.6"/><line x1="854.5" y1="866.0" x2="854.5" y2="1295.6"/><line x1="904.2" y1="866.0" x2="904.2" y2="1295.6"/><line x1="953.8" y1="866.0" x2="953.8" y2="1295.6"/><line x1="1003.4" y1="866.0" x2="1003.4" y2="1295.6"/><line x1="1053.1" y1="866.0" x2="1053.1" y2="1295.6"/><line x1="1102.7" y1="866.0" x2="1102.7" y2="1295.6"/><line x1="1152.4" y1="866.0" x2="1152.4" y2="1295.6"/><line x1="1202.0" y1="866.0" x2="1202.0" y2="1295.6"/><line x1="1251.6" y1="866.0" x2="1251.6" y2="1295.6"/><line x1="1301.3" y1="866.0" x2="1301.3" y2="1295.6"/><line x1="1350.9" y1="866.0" x2="1350.9" y2="1295.6"/><line x1="804.9" y1="866.0" x2="1350.9" y2="866.0"/><line x1="804.9" y1="936.7" x2="1350.9" y2="936.7"/><line x1="804.9" y1="1008.3" x2="1350.9" y2="1008.3"/><line x1="804.9" y1="1080.0" x2="1350.9" y2="1080.0"/><line x1="804.9" y1="1152.3" x2="1350.9" y2="1152.3"/><line x1="804.9" y1="1224.0" x2="1350.9" y2="1224.0"/><line x1="804.9" y1="1295.6" x2="1350.9" y2="1295.6"/></g>
<g stroke="#B4B4B4" stroke-width="2.5"><line x1="804.9" y1="866.0" x2="804.9" y2="1295.6"/><line x1="804.9" y1="936.7" x2="1350.9" y2="936.7"/></g>
<g fill="#5B9BD5"><circle cx="830.1" cy="1031.8" r="8.7"/><circle cx="853.9" cy="1071.3" r="8.7"/><circle cx="879.0" cy="1027.6" r="8.7"/><circle cx="902.1" cy="983.5" r="8.7"/><circle cx="928.0" cy="940.2" r="8.7"/><circle cx="951.7" cy="974.1" r="8.7"/><circle cx="978.0" cy="964.0" r="8.7"/><circle cx="1002.4" cy="945.4" r="8.7"/><circle cx="1027.6" cy="1135.9" r="8.7"/><circle cx="1052.1" cy="960.6" r="8.7"/><circle cx="1077.2" cy="969.9" r="8.7"/><circle cx="1103.4" cy="1264.2" r="8.7"/><circle cx="1127.5" cy="1089.4" r="8.7"/><circle cx="1153.0" cy="1174.0" r="8.7"/><circle cx="1177.1" cy="1167.4" r="8.7"/><circle cx="1202.3" cy="979.3" r="8.7"/><circle cx="1226.8" cy="1018.5" r="8.7"/><circle cx="1251.3" cy="939.8" r="8.7"/><circle cx="1275.7" cy="932.5" r="8.7"/><circle cx="1300.9" cy="988.4" r="8.7"/><circle cx="1325.4" cy="946.1" r="8.7"/></g>
<g font-family='Carlito, Calibri, "Liberation Sans", sans-serif' font-size="28.2" fill="#000"><text x="779.0" y="875.0" text-anchor="end">0.2</text><text x="779.0" y="945.7" text-anchor="end">0</text><text x="779.0" y="1017.3" text-anchor="end">-0.2</text><text x="779.0" y="1089.0" text-anchor="end">-0.4</text><text x="779.0" y="1161.3" text-anchor="end">-0.6</text><text x="779.0" y="1233.0" text-anchor="end">-0.8</text><text x="779.0" y="1304.6" text-anchor="end">-1</text><text x="804.9" y="983.2" text-anchor="middle">0</text><text x="854.5" y="983.2" text-anchor="middle">2</text><text x="904.2" y="983.2" text-anchor="middle">4</text><text x="953.8" y="983.2" text-anchor="middle">6</text><text x="1003.4" y="983.2" text-anchor="middle">8</text><text x="1053.1" y="983.2" text-anchor="middle">10</text><text x="1102.7" y="983.2" text-anchor="middle">12</text><text x="1152.4" y="983.2" text-anchor="middle">14</text><text x="1202.0" y="983.2" text-anchor="middle">16</text><text x="1251.6" y="983.2" text-anchor="middle">18</text><text x="1301.3" y="983.2" text-anchor="middle">20</text><text x="1350.9" y="983.2" text-anchor="middle">22</text></g>
<rect x="1083.7" y="862.9" width="107.6" height="433.8" fill="none" stroke="#053468" stroke-width="2.5"/>
<text transform="translate(1569.84,817.30) scale(1.0000,1)" font-family='"Liberation Sans", Arial, sans-serif' font-weight="bold" font-size="49.8" fill="#000">IT<tspan dy="4.35" stroke="#000" stroke-width="2.4">_</tspan><tspan dy="-4.35">GAR0011</tspan></text>
<g stroke="#D6D6D6" stroke-width="2.2"><line x1="1490.3" y1="869.2" x2="1490.3" y2="1295.6"/><line x1="1535.1" y1="869.2" x2="1535.1" y2="1295.6"/><line x1="1579.9" y1="869.2" x2="1579.9" y2="1295.6"/><line x1="1624.6" y1="869.2" x2="1624.6" y2="1295.6"/><line x1="1669.4" y1="869.2" x2="1669.4" y2="1295.6"/><line x1="1714.2" y1="869.2" x2="1714.2" y2="1295.6"/><line x1="1759.0" y1="869.2" x2="1759.0" y2="1295.6"/><line x1="1803.8" y1="869.2" x2="1803.8" y2="1295.6"/><line x1="1848.6" y1="869.2" x2="1848.6" y2="1295.6"/><line x1="1893.3" y1="869.2" x2="1893.3" y2="1295.6"/><line x1="1938.1" y1="869.2" x2="1938.1" y2="1295.6"/><line x1="1982.9" y1="869.2" x2="1982.9" y2="1295.6"/><line x1="1490.3" y1="869.2" x2="1982.9" y2="869.2"/><line x1="1490.3" y1="928.0" x2="1982.9" y2="928.0"/><line x1="1490.3" y1="989.8" x2="1982.9" y2="989.8"/><line x1="1490.3" y1="1049.9" x2="1982.9" y2="1049.9"/><line x1="1490.3" y1="1111.4" x2="1982.9" y2="1111.4"/><line x1="1490.3" y1="1173.3" x2="1982.9" y2="1173.3"/><line x1="1490.3" y1="1234.5" x2="1982.9" y2="1234.5"/><line x1="1490.3" y1="1295.6" x2="1982.9" y2="1295.6"/></g>
<g stroke="#B4B4B4" stroke-width="2.5"><line x1="1490.3" y1="869.2" x2="1490.3" y2="1295.6"/><line x1="1490.3" y1="1173.3" x2="1982.9" y2="1173.3"/></g>
<g fill="#5B9BD5" clip-path="url(#clipb3)"><circle cx="1512.3" cy="1099.9" r="8.7"/><circle cx="1535.0" cy="1154.1" r="8.7"/><circle cx="1557.8" cy="1045.7" r="8.7"/><circle cx="1580.5" cy="1083.5" r="8.7"/><circle cx="1602.2" cy="1136.6" r="8.7"/><circle cx="1624.2" cy="1119.1" r="8.7"/><circle cx="1646.9" cy="1175.1" r="8.7"/><circle cx="1668.9" cy="1074.4" r="8.7"/><circle cx="1692.3" cy="950.7" r="8.7"/><circle cx="1714.3" cy="1225.2" r="8.7"/><circle cx="1737.0" cy="956.7" r="8.7"/><circle cx="1758.7" cy="936.7" r="8.7"/><circle cx="1781.4" cy="1000.4" r="8.7"/><circle cx="1803.5" cy="923.5" r="8.7"/><circle cx="1826.2" cy="885.7" r="8.7"/><circle cx="1848.9" cy="1017.2" r="8.7"/><circle cx="1871.7" cy="1122.8" r="8.7"/><circle cx="1894.1" cy="1142.4" r="8.7"/><circle cx="1916.8" cy="1125.6" r="8.7"/><circle cx="1939.5" cy="1115.1" r="8.7"/><circle cx="1961.9" cy="1018.6" r="8.7"/></g>
<g font-family='Carlito, Calibri, "Liberation Sans", sans-serif' font-size="28.2" fill="#000"><text x="1463.8" y="878.2" text-anchor="end">1</text><text x="1463.8" y="937.0" text-anchor="end">0.8</text><text x="1463.8" y="998.8" text-anchor="end">0.6</text><text x="1463.8" y="1058.9" text-anchor="end">0.4</text><text x="1463.8" y="1120.4" text-anchor="end">0.2</text><text x="1463.8" y="1182.3" text-anchor="end">0</text><text x="1463.8" y="1243.5" text-anchor="end">-0.2</text><text x="1463.8" y="1304.6" text-anchor="end">-0.4</text><text x="1490.3" y="1219.2" text-anchor="middle">0</text><text x="1535.1" y="1219.2" text-anchor="middle">2</text><text x="1579.9" y="1219.2" text-anchor="middle">4</text><text x="1624.6" y="1219.2" text-anchor="middle">6</text><text x="1669.4" y="1219.2" text-anchor="middle">8</text><text x="1714.2" y="1219.2" text-anchor="middle">10</text><text x="1759.0" y="1219.2" text-anchor="middle">12</text><text x="1803.8" y="1219.2" text-anchor="middle">14</text><text x="1848.6" y="1219.2" text-anchor="middle">16</text><text x="1893.3" y="1219.2" text-anchor="middle">18</text><text x="1938.1" y="1219.2" text-anchor="middle">20</text><text x="1982.9" y="1219.2" text-anchor="middle">22</text></g>
<rect x="1729.3" y="863.3" width="125.6" height="434.4" fill="none" stroke="#053468" stroke-width="2.5"/>
</svg></body></html>
